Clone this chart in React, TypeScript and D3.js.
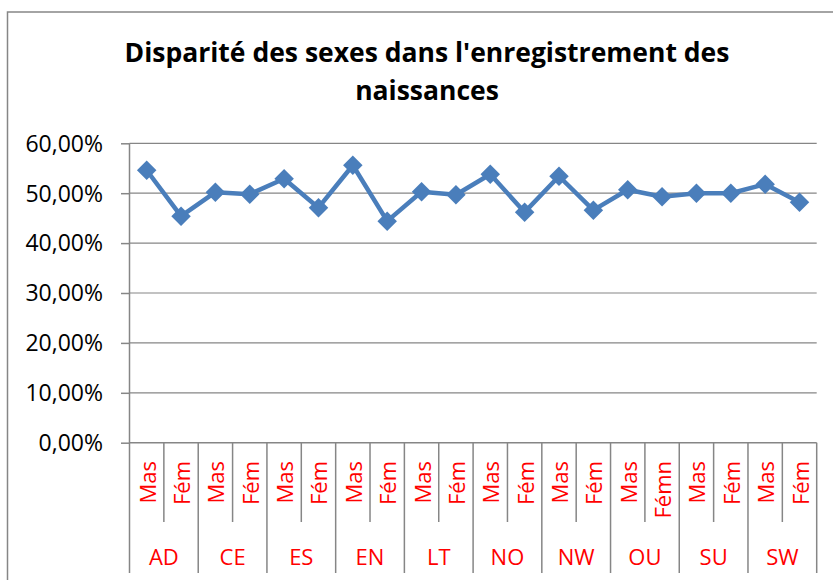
import { useEffect, useRef } from 'react';
import * as d3 from 'd3';

const TITLE_LINES = ["Disparité des sexes dans l'enregistrement des", 'naissances'];
const GROUPS = ['AD', 'CE', 'ES', 'EN', 'LT', 'NO', 'NW', 'OU', 'SU', 'SW'];
const SEX_LABELS = ['Mas', 'Fém', 'Mas', 'Fém', 'Mas', 'Fém', 'Mas', 'Fém', 'Mas', 'Fém',
  'Mas', 'Fém', 'Mas', 'Fém', 'Mas', 'Fémn', 'Mas', 'Fém', 'Mas', 'Fém'];
const VALUES = [0.546, 0.454, 0.502, 0.498, 0.529, 0.471, 0.556, 0.444, 0.503, 0.497,
  0.538, 0.462, 0.534, 0.466, 0.507, 0.493, 0.500, 0.500, 0.518, 0.482];
const Y_TICKS = [0, 0.1, 0.2, 0.3, 0.4, 0.5, 0.6];

const W = 833;
const H = 580;
const LINE_COLOR = '#4A7EBB';
const AXIS_COLOR = '#868686';
const LABEL_RED = '#FF0000';
const FONT = '"Open Sans", "Liberation Sans", sans-serif';

export default function App() {
  const svgRef = useRef<SVGSVGElement>(null);

  useEffect(() => {
    const svgEl = svgRef.current;
    if (!svgEl) return;
    const svg = d3.select(svgEl);
    svg.selectAll('*').remove();

    const plot = { left: 129.5, right: 816.7, top: 143.3, bottom: 442.7 };
    const keys = VALUES.map((_, i) => i);
    const x = d3.scaleBand<number>().domain(keys).range([plot.left, plot.right]);
    const y = d3.scaleLinear().domain([0, 0.6]).range([plot.bottom, plot.top]);
    const fmt = (v: number) => `${(v * 100).toFixed(2).replace('.', ',')}%`;

    // Chart frame (right/bottom edges run past the picture)
    svg.append('rect').attr('x', 7.5).attr('y', 12).attr('width', W + 20).attr('height', H + 20)
      .attr('fill', '#fff').attr('stroke', AXIS_COLOR).attr('stroke-width', 1.5);

    // Title
    svg.append('g').selectAll('text').data(TITLE_LINES).join('text')
      .attr('x', 427).attr('y', (_, i) => 62 + i * 38)
      .attr('text-anchor', 'middle').attr('font-family', FONT).attr('font-weight', 700)
      .attr('font-size', 26.5).attr('fill', '#000')
      .text((d) => d);

    // Gridlines
    svg.append('g').selectAll('line').data(Y_TICKS.filter((t) => t > 0)).join('line')
      .attr('x1', plot.left).attr('x2', plot.right)
      .attr('y1', (d) => y(d)).attr('y2', (d) => y(d))
      .attr('stroke', AXIS_COLOR).attr('stroke-width', 1.2);

    // Y axis
    const yAxis = svg.append('g').attr('transform', `translate(${plot.left},0)`)
      .call(d3.axisLeft(y).tickValues(Y_TICKS).tickSize(8.5).tickPadding(18).tickFormat((v) => fmt(v as number)));
    yAxis.select('.domain').attr('stroke', AXIS_COLOR).attr('stroke-width', 1.5)
      .attr('d', `M0,${plot.top}V${H - 7}`);
    yAxis.selectAll('.tick line').attr('stroke', AXIS_COLOR).attr('stroke-width', 1.5);
    yAxis.selectAll('.tick text').attr('font-family', FONT).attr('font-size', 23).attr('fill', '#000')
      .attr('dy', '0.34em');

    // X axis line
    svg.append('line').attr('x1', plot.left).attr('x2', plot.right)
      .attr('y1', plot.bottom).attr('y2', plot.bottom)
      .attr('stroke', AXIS_COLOR).attr('stroke-width', 1.5);

    // Category separators: short between sexes, long between groups
    const bounds = d3.range(1, VALUES.length + 1);
    svg.append('g').selectAll('line').data(bounds).join('line')
      .attr('x1', (i) => x(i - 1)! + x.bandwidth()).attr('x2', (i) => x(i - 1)! + x.bandwidth())
      .attr('y1', plot.bottom).attr('y2', (i) => (i % 2 === 0 ? H - 7 : 522))
      .attr('stroke', AXIS_COLOR).attr('stroke-width', 1.5);

    // Sex labels (rotated)
    svg.append('g').selectAll('text').data(SEX_LABELS).join('text')
      .attr('transform', (_, i) => `translate(${x(i)! + x.bandwidth() / 2},${461}) rotate(-90)`)
      .attr('text-anchor', 'end').attr('dominant-baseline', 'central')
      .attr('font-family', FONT).attr('font-size', 22).attr('fill', LABEL_RED)
      .text((d) => d);

    // Group labels
    svg.append('g').selectAll('text').data(GROUPS).join('text')
      .attr('x', (_, g) => x(g * 2)! + x.bandwidth())
      .attr('y', 557).attr('dy', '0.35em')
      .attr('text-anchor', 'middle').attr('font-family', FONT).attr('font-size', 22).attr('fill', LABEL_RED)
      .text((d) => d);

    // Line
    const line = d3.line<number>().x((_, i) => x(i)! + x.bandwidth() / 2).y((d) => y(d));
    svg.append('path').datum(VALUES).attr('d', line).attr('fill', 'none')
      .attr('stroke', LINE_COLOR).attr('stroke-width', 4.5).attr('stroke-linejoin', 'round');

    // Diamond markers
    const diamond = d3.symbol(d3.symbolSquare, 190);
    svg.append('g').selectAll('path').data(VALUES).join('path')
      .attr('transform', (d, i) => `translate(${x(i)! + x.bandwidth() / 2},${y(d)}) rotate(45)`)
      .attr('d', diamond).attr('fill', LINE_COLOR);
  }, []);

  return (
    <div style={{ width: W, height: H, position: 'fixed', left: 0, top: 0, background: '#fff' }}>
      <svg ref={svgRef} width={W} height={H} role="img" aria-label="Disparité des sexes dans l'enregistrement des naissances" />
    </div>
  );
}
